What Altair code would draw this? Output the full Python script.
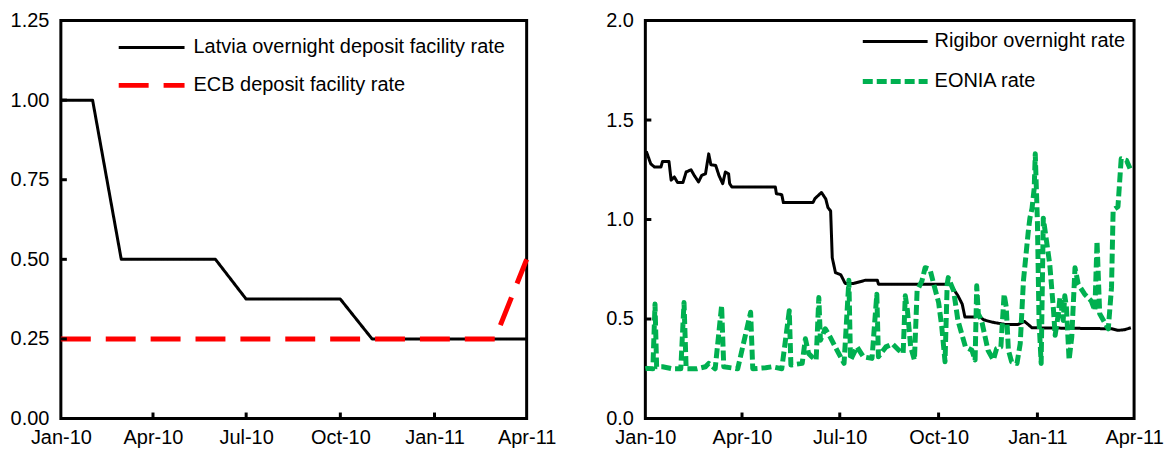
import altair as alt
import pandas as pd

FONT = "Liberation Sans"
FS = 20

# ---------------- Left panel data (monthly) ----------------
S_LAT = "Latvia overnight deposit facility rate"
S_ECB = "ECB deposit facility rate"
left_months = ["2010-01-01", "2010-02-01", "2010-03-01", "2010-04-01", "2010-05-01",
               "2010-06-01", "2010-07-01", "2010-08-01", "2010-09-01", "2010-10-01",
               "2010-11-01", "2010-12-01", "2011-01-01", "2011-02-01", "2011-03-01",
               "2011-04-01"]
latvia_rate = [1.00, 1.00, 0.50, 0.50, 0.50, 0.50, 0.375, 0.375, 0.375, 0.375,
               0.25, 0.25, 0.25, 0.25, 0.25, 0.25]
ecb_rate = [0.25, 0.25, 0.25, 0.25, 0.25, 0.25, 0.25, 0.25, 0.25, 0.25,
            0.25, 0.25, 0.25, 0.25, 0.25, 0.50]

# ---------------- Right panel data (days since 1 Jan 2010) ----------------
S_RIG = "Rigibor overnight rate"
S_EON = "EONIA rate"
rigibor_day = [0, 1.2, 5, 8.5, 14.5, 16, 22, 24, 27, 30, 35, 38, 42.5, 45.5, 49.5, 52.5,
               56, 59, 61, 65.5, 68.5, 72, 74.5, 77.5, 78.5, 80.5, 121, 122, 127, 128.5,
               156, 158, 164, 168, 170, 172.5, 174, 177, 182, 186, 194, 205, 216, 217,
               284, 291, 295, 297.5, 307, 310, 315, 323, 335, 347, 353, 360, 434, 440,
               446, 452]
rigibor_rate = [1.33, 1.338, 1.28, 1.264, 1.264, 1.292, 1.292, 1.198, 1.214, 1.186, 1.186,
                1.239, 1.25, 1.222, 1.189, 1.222, 1.23, 1.33, 1.275, 1.272, 1.222, 1.18,
                1.239, 1.23, 1.18, 1.164, 1.164, 1.13, 1.125, 1.085, 1.085, 1.106, 1.136,
                1.103, 1.06, 1.043, 0.808, 0.733, 0.722, 0.679, 0.679, 0.695, 0.695, 0.675,
                0.675, 0.617, 0.575, 0.51, 0.51, 0.518, 0.496, 0.484, 0.473, 0.473, 0.488,
                0.456, 0.451, 0.443, 0.446, 0.456]
eonia_day = [0, 2, 7, 9, 10.5, 16, 25, 33, 36, 38, 48, 56, 59, 65, 71, 73, 86, 98, 100,
             112, 118, 127, 134, 135.5, 146, 149, 152, 155, 159, 161.5, 163, 167.5, 172,
             180, 185, 189.5, 191, 197, 203, 211, 215.5, 217, 224, 230, 236, 240, 242, 244,
             247, 250.5, 253, 257.5, 260.5, 265, 268.5, 273, 276, 279, 281, 282, 287, 291,
             298, 304, 307, 308.5, 310, 313, 319, 324, 327, 331, 334, 336, 338, 341, 346,
             349, 352, 356.5, 358, 360, 362, 363, 365, 366.5, 368.5, 370.5, 373.5, 376.5,
             380, 381.5, 384.5, 386, 389, 390.5, 392, 394.5, 397, 400, 403, 409, 415,
             418.5, 420.5, 423, 431, 434, 435.5, 440, 443, 448, 452]
eonia_rate = [0.25, 0.252, 0.25, 0.575, 0.26, 0.26, 0.25, 0.25, 0.583, 0.25, 0.25, 0.26,
              0.277, 0.25, 0.567, 0.26, 0.25, 0.534, 0.25, 0.255, 0.26, 0.25, 0.542, 0.269,
              0.277, 0.401, 0.327, 0.31, 0.294, 0.608, 0.393, 0.451, 0.41, 0.327, 0.277,
              0.695, 0.294, 0.36, 0.31, 0.302, 0.625, 0.31, 0.36, 0.375, 0.343, 0.327,
              0.617, 0.543, 0.36, 0.294, 0.642, 0.692, 0.758, 0.75, 0.675, 0.584, 0.459,
              0.285, 0.675, 0.708, 0.642, 0.493, 0.36, 0.343, 0.294, 0.667, 0.526, 0.493,
              0.343, 0.294, 0.351, 0.36, 0.625, 0.559, 0.343, 0.285, 0.277, 0.376, 0.692,
              0.94, 1.007, 1.056, 1.156, 1.33, 0.99, 0.493, 0.277, 1.007, 0.891, 0.775,
              0.543, 0.418, 0.526, 0.609, 0.493, 0.617, 0.559, 0.294, 0.41, 0.758, 0.675,
              0.625, 0.592, 0.543, 0.891, 0.526, 0.451, 0.659, 1.048, 1.065, 1.305, 1.297,
              1.247]

left_y_ticks = [0.25, 0.50, 0.75, 1.00]
right_y_ticks = [0.5, 1.0, 1.5]
quarter_dates = ["2010-04-01", "2010-07-01", "2010-10-01", "2011-01-01"]

BASE = pd.Timestamp("2010-01-01")


def iso(ts):
    return pd.Timestamp(ts).strftime("%Y-%m-%dT%H:%M:%SZ")


def days_to_iso(days):
    return [iso(BASE + pd.to_timedelta(d, unit="D")) for d in days]


def frame(dates, values):
    return pd.DataFrame({"date": dates, "value": values})


df_lat = frame([iso(m) for m in left_months], latvia_rate)
df_ecb = frame([iso(m) for m in left_months], ecb_rate)
df_rig = frame(days_to_iso(rigibor_day), rigibor_rate)
df_eon = frame(days_to_iso(eonia_day), eonia_rate)

qtr_all = [alt.DateTime(year=y, month=m, date=1, utc=True)
           for (y, m) in [(2010, 1), (2010, 4), (2010, 7), (2010, 10), (2011, 1), (2011, 4)]]

x_scale = alt.Scale(type="utc", domain=[qtr_all[0], qtr_all[-1]])
x_axis = alt.Axis(values=qtr_all, labelExpr="utcFormat(datum.value, '%b-%y')", title=None,
                  grid=False, domain=False, ticks=False, labelPadding=9, labelFlush=False,
                  labelFontSize=FS, labelFont=FONT, labelColor="black", labelOverlap=False)


def y_axis(vals, fmt):
    return alt.Axis(values=vals, format=fmt, title=None, grid=False, domain=False, ticks=False,
                    labelPadding=12, labelFontSize=FS, labelFont=FONT, labelColor="black",
                    labelFlush=False, labelOverlap=False)


def panel(series, names, ymax, yvals, yfmt, ytick_vals, width, height, leg):
    y_scale = alt.Scale(domain=[0, ymax], nice=False, zero=True)
    layers = []
    for df, color, dash, w, cap in series:
        layers.append(
            alt.Chart(df).mark_line(color=color, strokeDash=dash, strokeWidth=w,
                                    strokeCap=cap, strokeJoin="round").encode(
                x=alt.X("date:T", scale=x_scale, axis=x_axis),
                y=alt.Y("value:Q", scale=y_scale, axis=y_axis(yvals, yfmt)),
            ))

    ytick_df = pd.DataFrame({"value": ytick_vals})
    layers.append(alt.Chart(ytick_df).mark_rule(color="black", strokeWidth=3).encode(
        y=alt.Y("value:Q", scale=y_scale, axis=y_axis(yvals, yfmt)),
        x=alt.value(0), x2=alt.value(6)))
    xtick_df = pd.DataFrame({"date": [iso(d) for d in quarter_dates]})
    layers.append(alt.Chart(xtick_df).mark_rule(color="black", strokeWidth=3).encode(
        x=alt.X("date:T", scale=x_scale, axis=x_axis),
        y=alt.value(height), y2=alt.value(height - 6)))

    # legend (drawn as rule + text layers)
    lx0, lx1, ltx, rows = leg
    for name, (df, color, dash, w, cap), ly in zip(names, series, rows):
        ldf = pd.DataFrame({"label": [name]})
        layers.append(alt.Chart(ldf).mark_rule(color=color, strokeDash=dash, strokeWidth=w,
                                               strokeCap=cap).encode(
            x=alt.value(lx0), x2=alt.value(lx1), y=alt.value(ly)))
        layers.append(alt.Chart(ldf).mark_text(align="left", baseline="middle", font=FONT,
                                               fontSize=FS, color="black").encode(
            x=alt.value(ltx), y=alt.value(ly), text="label:N"))

    return alt.layer(*layers).properties(width=width, height=height)


left_series = [(df_lat, "#000000", [1, 0], 3, "butt"),
               (df_ecb, "#FF0000", [30, 15], 5, "butt")]
right_series = [(df_rig, "#000000", [1, 0], 3, "butt"),
                (df_eon, "#00B050", [10, 4], 5, "butt")]

left = panel(left_series, [S_LAT, S_ECB], 1.25, [0, 0.25, 0.5, 0.75, 1.0, 1.25], ".2f",
             left_y_ticks, 467, 399, (58, 124, 133, [27, 65]))
right = panel(right_series, [S_RIG, S_EON], 2.0, [0, 0.5, 1.0, 1.5, 2.0], ".1f",
              right_y_ticks, 490, 399, (218, 283, 290, [21, 61]))

chart = alt.hconcat(left, right, spacing=119, bounds="flush").resolve_scale(
    x="independent", y="independent"
).properties(
    padding={"left": 0, "top": 0, "right": 0, "bottom": 0}, background="white"
).configure_view(stroke="black", strokeWidth=3)

chart.save("out.html", embed_options={"renderer": "svg", "actions": False})
